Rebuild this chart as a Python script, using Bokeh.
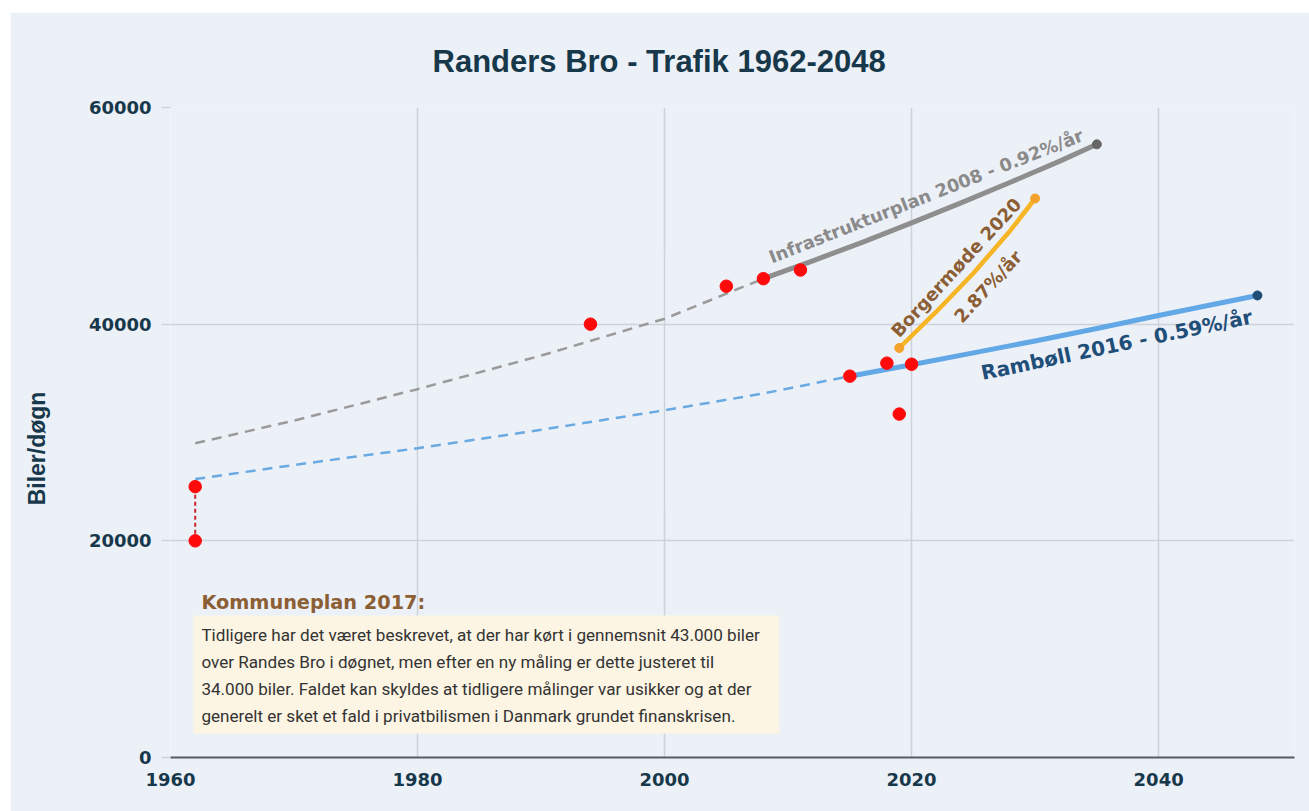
from bokeh.plotting import figure
from bokeh.models import Range1d, FixedTicker, Label, LinearAxis
from bokeh.embed import file_html
from bokeh.resources import INLINE

# ---- data ----
obs_years = [1962, 1962, 1994, 2005, 2008, 2011, 2015, 2018, 2019, 2020]
obs_cars = [20000, 25000, 40000, 43500, 44200, 45000, 35200, 36400, 31700, 36300]

gap_years = [1962, 1962]
gap_cars = [20000, 25000]

infra_past_years = [1962, 1970, 1980, 1990, 2000, 2008]
infra_past_cars = [29000, 31100, 34000, 37100, 40500, 44200]
infra_years = [2008, 2012, 2016, 2020, 2024, 2028, 2032, 2035]
infra_cars = [44200, 45850, 47550, 49350, 51200, 53100, 55050, 56600]

ramboll_past_years = [1962, 1970, 1980, 1990, 2000, 2008, 2015]
ramboll_past_cars = [25700, 27000, 28550, 30250, 32050, 33600, 35200]
ramboll_years = [2015, 2020, 2025, 2030, 2035, 2040, 2048]
ramboll_cars = [35200, 36250, 37350, 38450, 39600, 40800, 42650]

borger_years = [2019, 2022, 2025, 2028, 2030]
borger_cars = [37800, 41150, 44700, 48650, 51600]

x_ticks = [1960, 1980, 2000, 2020, 2040]
y_ticks = [0, 20000, 40000, 60000]

title_text = "Randers Bro - Trafik 1962-2048"
y_label = "Biler/døgn"
note_title = "Kommuneplan 2017:"
note_lines = [
    "Tidligere har det været beskrevet, at der har kørt i gennemsnit 43.000 biler",
    "over Randes Bro i døgnet, men efter en ny måling er dette justeret til",
    "34.000 biler. Faldet kan skyldes at tidligere målinger var usikker og at der",
    "generelt er sket et fald i privatbilismen i Danmark grundet finanskrisen.",
]

BG = "#ECF0F7"
DARK = "#17384A"
GRID = "#CDD1D9"

p = figure(width=1299, height=799, output_backend="svg", toolbar_location=None,
           x_range=Range1d(1960, 2051), y_range=Range1d(0, 60000),
           min_border_left=160, min_border_right=15, min_border_top=95, min_border_bottom=54)
p.styles = {"margin-left": "10px", "margin-top": "12px"}
p.background_fill_color = BG
p.border_fill_color = BG
p.outline_line_color = None

p.title.text = title_text
p.title.align = "left"
p.title.offset = 262
p.title.standoff = 0
p.title.vertical_align = "middle"
p.title.text_font = "Liberation Sans"
p.title.text_font_style = "bold"
p.title.text_font_size = "31px"
p.title.text_color = DARK

p.xgrid.grid_line_color = GRID
p.ygrid.grid_line_color = GRID
p.xgrid.grid_line_width = 1.5
p.ygrid.grid_line_width = 1.5

bottom_axis = p.below[0]
left_axis = p.left[0]
bottom_axis.ticker = FixedTicker(ticks=x_ticks)
left_axis.ticker = FixedTicker(ticks=y_ticks)
p.xgrid.ticker = FixedTicker(ticks=x_ticks)
p.ygrid.ticker = FixedTicker(ticks=y_ticks)
bottom_axis.minor_tick_line_color = None
left_axis.minor_tick_line_color = None

for ax in (bottom_axis, left_axis):
    ax.major_label_text_font = "DejaVu Sans"
    ax.major_label_text_font_style = "bold"
    ax.major_label_text_font_size = "18px"
    ax.major_label_text_color = DARK

bottom_axis.axis_line_color = "#555B63"
bottom_axis.axis_line_width = 2
bottom_axis.major_tick_out = 0
bottom_axis.major_tick_in = 0
bottom_axis.major_label_standoff = 15

left_axis.axis_line_color = None
left_axis.major_tick_out = 9
left_axis.major_tick_in = 0
left_axis.major_tick_line_color = GRID
left_axis.major_tick_line_width = 1.5
left_axis.major_label_standoff = 10
left_axis.axis_label = y_label + "\u00a0" * 5
left_axis.axis_label_text_font = "Liberation Sans"
left_axis.axis_label_text_font_style = "bold"
left_axis.axis_label_text_font_size = "23px"
left_axis.axis_label_text_color = DARK
left_axis.axis_label_standoff = 36

# invisible spacer between title and plot area
spacer = LinearAxis(ticker=FixedTicker(ticks=[2000]), major_label_overrides={2000: "\u00a0"},
                    axis_line_color=None, major_tick_line_color=None, minor_tick_line_color=None,
                    major_tick_out=28, major_tick_in=0, minor_tick_out=0,
                    major_label_standoff=0, major_label_text_alpha=0, major_label_text_font_size="11px")
p.add_layout(spacer, "above")

# dashed back-projections
p.line(infra_past_years, infra_past_cars, line_color="#9A9A9A", line_width=2.5, line_dash="10 7")
p.line(ramboll_past_years, ramboll_past_cars, line_color="#6AAAE2", line_width=2.5, line_dash="10 7")

# solid projections
p.line(infra_years, infra_cars, line_color="#8E8E8E", line_width=5, line_join="round")
p.line(ramboll_years, ramboll_cars, line_color="#62A8E6", line_width=5, line_join="round")
p.line(borger_years, borger_cars, line_color="#F5B524", line_width=4.5, line_join="round")

# red dotted gap
p.line(gap_years, gap_cars, line_color="#C8262B", line_width=2, line_dash="4 3")

# end markers
p.scatter([infra_years[-1]], [infra_cars[-1]], size=9, color="#666666")
p.scatter([ramboll_years[-1]], [ramboll_cars[-1]], size=9, color="#1F4E79")
p.scatter([borger_years[0], borger_years[-1]], [borger_cars[0], borger_cars[-1]], size=9, color="#F5A22C")

# observations
p.scatter(obs_years, obs_cars, size=12.5, color="#FF0A0A")

# note box
p.quad(left=[1961.86], right=[2009.3], bottom=[2215], top=[13110], fill_color="#FDF5E3", line_color=None)
p.add_layout(Label(x=1962.5, y=14300, text=note_title, text_font="DejaVu Sans", text_font_style="bold",
                   text_font_size="19.3px", text_color="#8B5E34", text_baseline="middle", text_align="left"))
for i, line in enumerate(note_lines):
    p.add_layout(Label(x=1962.5, y=11262 - i * 2480, text=line, text_font="Roboto",
                       text_font_size="17.1px", text_color="#333333", text_baseline="middle", text_align="left"))

# line annotations
p.add_layout(Label(x=2021.17, y=51790, text="Infrastrukturplan 2008 - 0.92%/år", angle=21.5, angle_units="deg",
                   text_font="DejaVu Sans", text_font_style="bold", text_font_size="17.7px", text_color="#8A8A8A",
                   text_baseline="middle", text_align="center"))
p.add_layout(Label(x=2023.6, y=45230, text="Borgermøde 2020", angle=47.3, angle_units="deg",
                   text_font="DejaVu Sans", text_font_style="bold", text_font_size="18px", text_color="#8B5E34",
                   text_baseline="middle", text_align="center"))
p.add_layout(Label(x=2026.18, y=43480, text="2.87%/år", angle=47.3, angle_units="deg",
                   text_font="DejaVu Sans", text_font_style="bold", text_font_size="18px", text_color="#8B5E34",
                   text_baseline="middle", text_align="center"))
p.add_layout(Label(x=2036.6, y=38100, text="Rambøll 2016 - 0.59%/år", angle=11.9, angle_units="deg",
                   text_font="DejaVu Sans", text_font_style="bold", text_font_size="20px", text_color="#1F4E79",
                   text_baseline="middle", text_align="center"))

open("out.html", "w").write(file_html(p, INLINE))
